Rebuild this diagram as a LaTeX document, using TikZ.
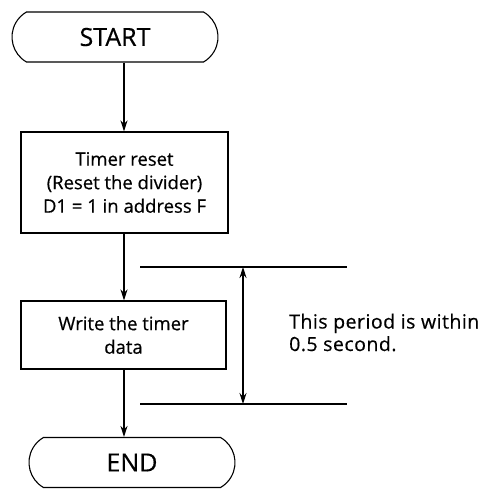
\documentclass[tikz,border=0pt]{standalone}
\usepackage{fontspec}
\setmainfont{Open Sans}[FakeBold=0.5]
\usetikzlibrary{shapes.misc,arrows.meta}
\begin{document}
\begin{tikzpicture}[x=1pt,y=-1pt,
  term/.style={draw,line width=1.1pt,rounded rectangle,rounded rectangle arc length=120,
    minimum width=206pt,minimum height=50pt,inner sep=0pt,font=\fontsize{25}{28}\selectfont},
  proc/.style={draw,line width=1.1pt,rectangle,inner sep=0pt,align=center,
    font=\fontsize{18.5}{23.5}\selectfont},
  flow/.style={line width=1.1pt,-{Stealth[length=11pt,width=7pt]}},
  dim/.style={line width=1.1pt,{Stealth[length=11pt,width=7pt]}-{Stealth[length=11pt,width=7pt]}},
  guide/.style={line width=1.1pt},
  note/.style={align=left,inner sep=0pt,font=\fontsize{19.5}{22.5}\selectfont\addfontfeature{LetterSpace=2.5}}]
\useasboundingbox (0,0) rectangle (484,489);
\node[term] (S) at (115,37) {START};
\node[proc,minimum width=207pt,minimum height=101pt] (B1) at (124.5,182.5) {Timer reset\\(Reset the divider)\\D1 = 1 in address F};
\node[proc,minimum width=205pt,minimum height=68pt] (B2) at (123.5,335) {Write the timer\\data};
\node[term] (E) at (132,462.5) {END};
\coordinate (c) at (124,0);
\draw[flow] (c |- S.south) -- (c |- B1.north);
\draw[flow] (c |- B1.south) -- (c |- B2.north);
\draw[flow] (c |- B2.south) -- (c |- E.north);
\coordinate (t1) at (140,267);
\coordinate (t2) at (347,267);
\coordinate (b1) at (140,404);
\coordinate (b2) at (347,404);
\draw[guide] (t1) -- (t2);
\draw[guide] (b1) -- (b2);
\coordinate (d) at (243,0);
\draw[dim] (d |- t1) -- (d |- b1);
\node[note,anchor=base west] (N) at (289,351) {This period is within\\0.5 second.};
\end{tikzpicture}
\end{document}
